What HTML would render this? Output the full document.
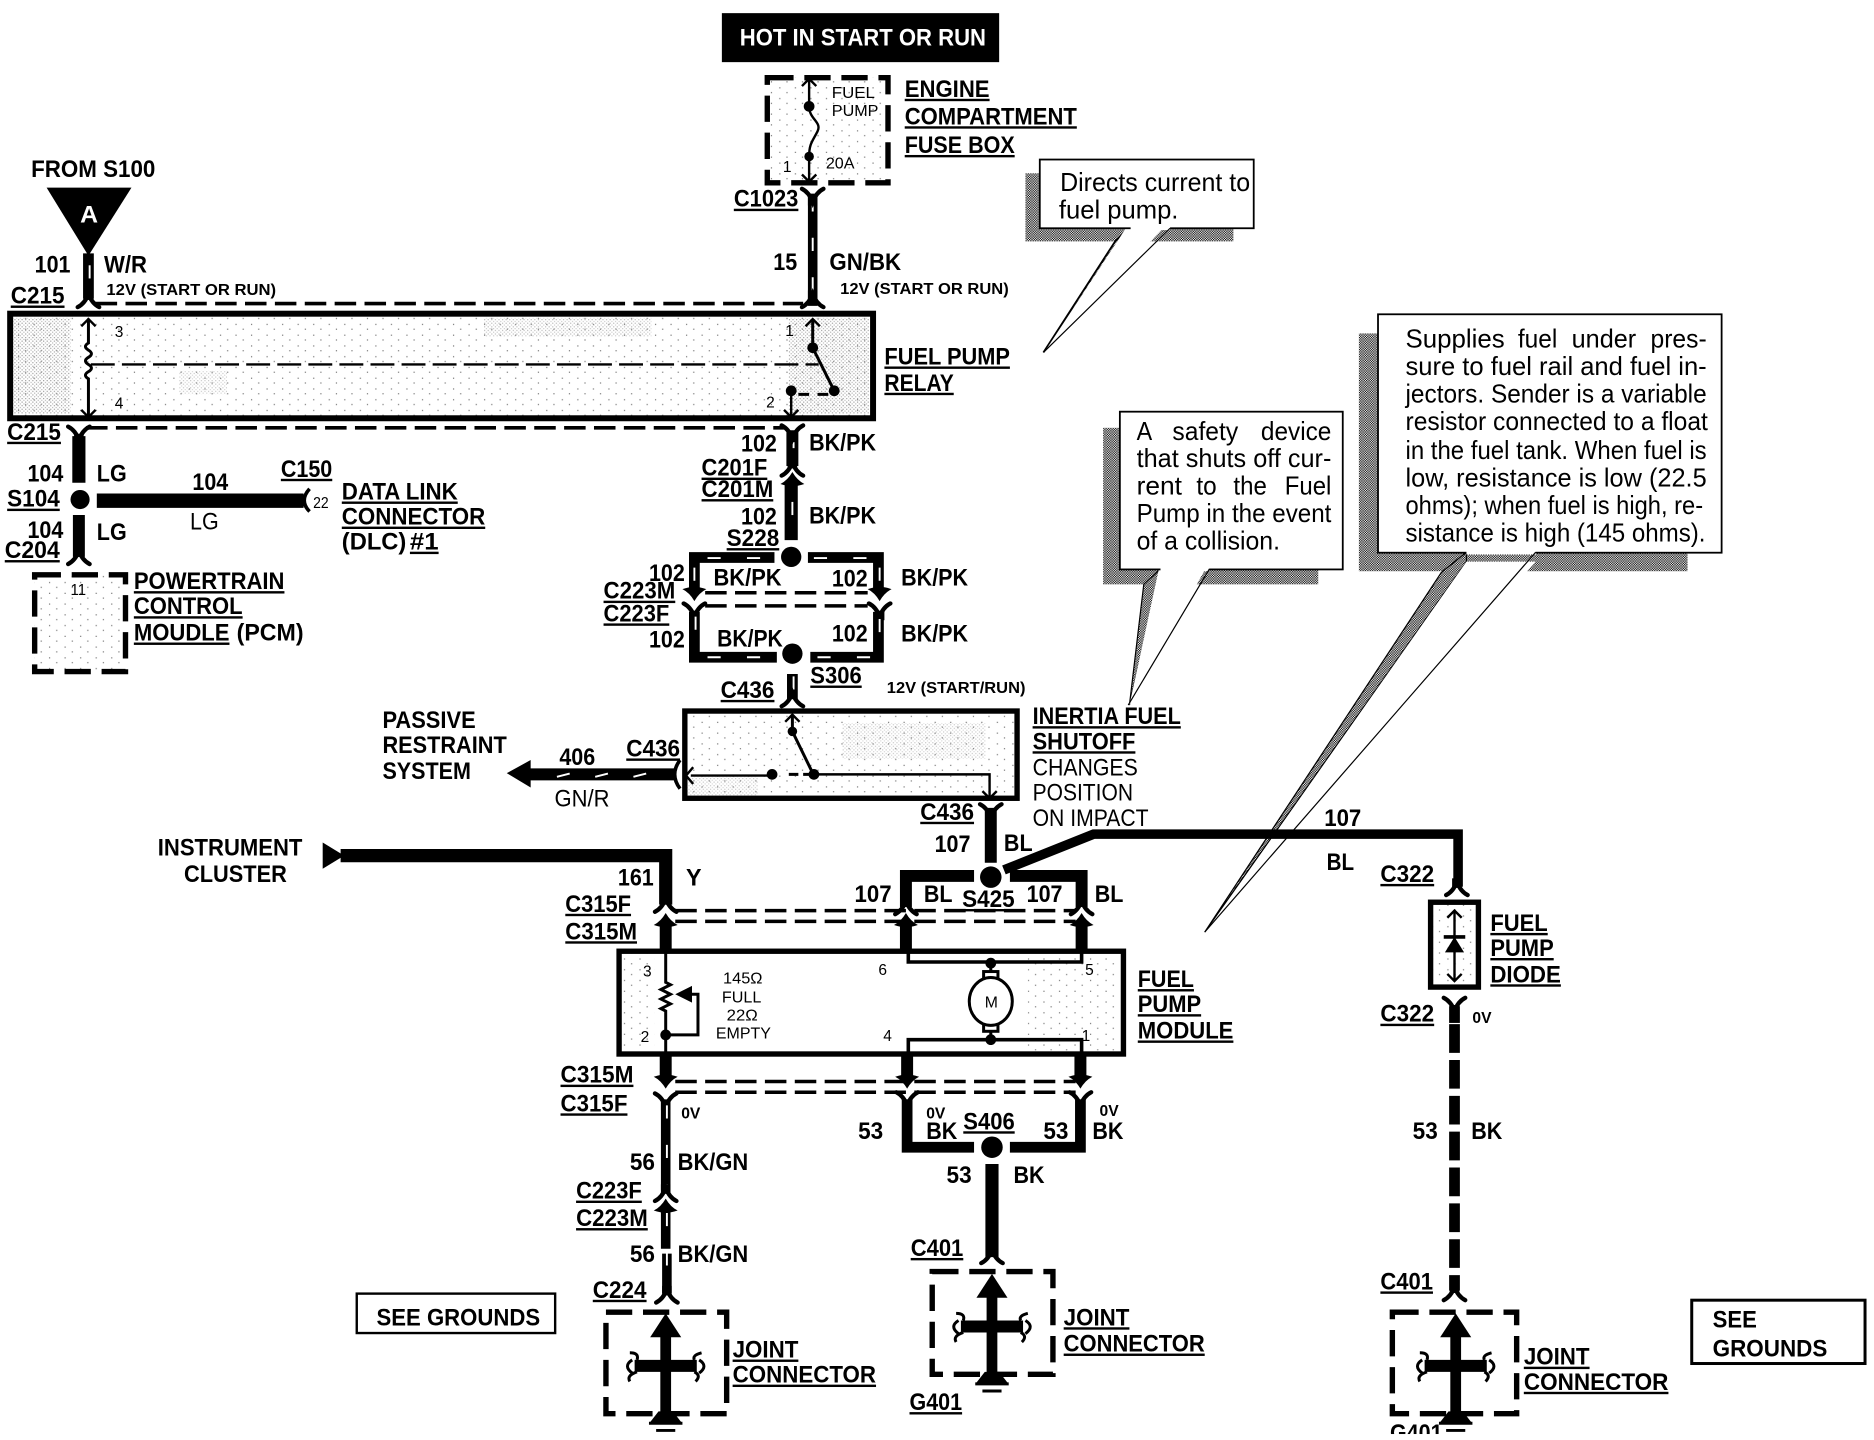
<!DOCTYPE html>
<html><head><meta charset="utf-8"><title>Fuel Pump Wiring Diagram</title>
<style>
html,body{margin:0;padding:0;background:#fff;overflow:hidden}
svg{display:block}
text{font-family:"Liberation Sans",sans-serif;fill:#000}
.b{font-weight:bold;font-size:20px}
.u{font-weight:bold;font-size:20px;text-decoration:underline}
.s{font-weight:bold;font-size:13px}
.n{font-size:20px}
.t{font-size:13px}
.c{font-size:22px}
.w{fill:none;stroke:#000;stroke-linecap:butt;stroke-linejoin:miter}
.sl{fill:none;stroke:#fff;stroke-width:1.6;stroke-dasharray:11 22}
.d{fill:none;stroke:#000;stroke-width:3;stroke-dasharray:18 7}
.bx{fill:none;stroke:#000;stroke-width:4.5;stroke-dasharray:22 9}
</style></head><body>
<svg xmlns="http://www.w3.org/2000/svg" width="1874" height="1440" viewBox="0 0 1568 1205" preserveAspectRatio="none">
<defs>
<pattern id="dit" width="2" height="2" patternUnits="userSpaceOnUse"><rect width="2" height="2" fill="#fff"/><rect width="1" height="1" fill="#000"/><rect x="1" y="1" width="1" height="1" fill="#000"/></pattern>
<pattern id="st" width="3" height="3" patternUnits="userSpaceOnUse"><rect width="1" height="1" fill="#777"/><rect x="1.5" y="1.5" width="1" height="1" fill="#999"/></pattern>
<pattern id="sp" width="13" height="9" patternUnits="userSpaceOnUse"><rect x="2" y="1" width="1" height="1" fill="#777"/><rect x="8" y="5" width="1" height="1" fill="#777"/></pattern>
<g id="fl"><path d="M-9,-7 Q-3,-4 0,4 Q3,-4 9,-7" fill="none" stroke="#000" stroke-width="3.600" stroke-linecap="round"/><polygon points="-4,-1 4,-1 4,7 -4,7" fill="#000"/></g>
<g id="ar"><path d="M0,-7 Q4,0 10,3 Q4,5 0,5 Q-4,5 -10,3 Q-4,0 0,-7Z" fill="#000"/></g>
<g id="ch"><polyline points="-6,6 0,0 6,6" fill="none" stroke="#000" stroke-width="2"/></g>
<g id="gnd"><path d="M-14,0H14M-8,6H8" stroke="#000" stroke-width="2.500" fill="none"/></g>
<g id="jc"><polygon points="0,-44 -13,-24 13,-24" fill="#000"/><path d="M0,-28V42" stroke="#000" stroke-width="9" fill="none"/><polygon points="-6,38 6,38 13,47 -13,47" fill="#000"/><path d="M-26,0H26" stroke="#000" stroke-width="10" fill="none"/><path d="M-30,-11 Q-22,-11 -24,-5 M-24,5 Q-33,8 -30,13 M30,-11 Q22,-9 24,-5 M24,5 Q30,8 25,13 M-28,-5 Q-36,0 -28,6 M28,-5 Q36,0 28,6" stroke="#000" stroke-width="2.500" fill="none"/></g>
</defs>
<rect width="1568" height="1205" fill="#fff"/>

<g transform="translate(1,0)">
<!-- callout 1 -->
<rect x="857" y="145" width="174" height="57" fill="url(#dit)"/>
<polygon points="932,202 945,190 872,295" fill="url(#dit)" stroke="#000" stroke-width="1.500"/>
<polygon points="945,185 978,185 874,293" fill="#fff"/>
<rect x="869" y="133.500" width="179" height="57.500" fill="#fff" stroke="#000" stroke-width="1.500"/>
<path d="M945,191 H978" stroke="#fff" stroke-width="3"/>
<path d="M978,191 L873,294" stroke="#000" stroke-width="1"/>
<text class="c" x="886" y="160" textLength="159" lengthAdjust="spacingAndGlyphs">Directs current to</text>
<text class="c" x="885" y="183" textLength="100" lengthAdjust="spacingAndGlyphs">fuel pump.</text>

<!-- callout 2 -->
<rect x="922" y="358" width="180" height="131" fill="url(#dit)"/>
<polygon points="956,489 970,476 944,590" fill="url(#dit)" stroke="#000" stroke-width="1"/>
<polygon points="970,470 1011,470 944,590" fill="#fff"/>
<rect x="936" y="344.500" width="186.500" height="132" fill="#fff" stroke="#000" stroke-width="1.500"/>
<path d="M970,476.500 H1011" stroke="#fff" stroke-width="3"/>
<path d="M1011,476 L943,590" stroke="#000" stroke-width="1"/>
<text class="c" x="950" y="368" textLength="13" lengthAdjust="spacingAndGlyphs">A</text>
<text class="c" x="980" y="368" textLength="55" lengthAdjust="spacingAndGlyphs">safety</text>
<text class="c" x="1054" y="368" textLength="59" lengthAdjust="spacingAndGlyphs">device</text>
<text class="c" x="950" y="391" textLength="163" lengthAdjust="spacingAndGlyphs">that shuts off cur-</text>
<text class="c" x="950" y="414" textLength="38" lengthAdjust="spacingAndGlyphs">rent</text>
<text class="c" x="1000" y="414" textLength="17" lengthAdjust="spacingAndGlyphs">to</text>
<text class="c" x="1031" y="414" textLength="28" lengthAdjust="spacingAndGlyphs">the</text>
<text class="c" x="1074" y="414" textLength="39" lengthAdjust="spacingAndGlyphs">Fuel</text>
<text class="c" x="950" y="437" textLength="163" lengthAdjust="spacingAndGlyphs">Pump in the event</text>
<text class="c" x="950" y="460" textLength="120" lengthAdjust="spacingAndGlyphs">of a collision.</text>

<!-- callout 3 -->
<rect x="1136" y="279" width="275" height="199" fill="url(#dit)"/>
<polygon points="1205,479 1226,462 1226,470 1007,780" fill="url(#dit)" stroke="#000" stroke-width="1"/>
<polygon points="1226,470 1284,470 1008,780" fill="#fff"/>
<rect x="1152" y="263" width="287.500" height="199.500" fill="#fff" stroke="#000" stroke-width="1.500"/>
<path d="M1226,462.500 H1284" stroke="#fff" stroke-width="3"/>
<path d="M1284,462 L1007,780" stroke="#000" stroke-width="1"/>
<text class="c" x="1175" y="291" textLength="83" lengthAdjust="spacingAndGlyphs">Supplies</text>
<text class="c" x="1269" y="291" textLength="33" lengthAdjust="spacingAndGlyphs">fuel</text>
<text class="c" x="1314" y="291" textLength="54" lengthAdjust="spacingAndGlyphs">under</text>
<text class="c" x="1380" y="291" textLength="47" lengthAdjust="spacingAndGlyphs">pres-</text>
<text class="c" x="1175" y="314" textLength="252" lengthAdjust="spacingAndGlyphs">sure to fuel rail and fuel in-</text>
<text class="c" x="1175" y="337" textLength="252" lengthAdjust="spacingAndGlyphs">jectors. Sender is a variable</text>
<text class="c" x="1175" y="360" textLength="253" lengthAdjust="spacingAndGlyphs">resistor connected to a float</text>
<text class="c" x="1175" y="384" textLength="252" lengthAdjust="spacingAndGlyphs">in the fuel tank. When fuel is</text>
<text class="c" x="1175" y="407" textLength="252" lengthAdjust="spacingAndGlyphs">low, resistance is low (22.5</text>
<text class="c" x="1175" y="430" textLength="249" lengthAdjust="spacingAndGlyphs">ohms); when fuel is high, re-</text>
<text class="c" x="1175" y="453" textLength="251" lengthAdjust="spacingAndGlyphs">sistance is high (145 ohms).</text>
</g>

<!-- top -->
<rect x="604" y="11" width="232" height="41" fill="#000"/>
<text class="b" x="619" y="38" textLength="206" lengthAdjust="spacingAndGlyphs" style="fill:#fff">HOT IN START OR RUN</text>

<!-- fuse box -->
<rect x="642" y="65" width="101" height="88" fill="url(#sp)"/>
<rect x="642" y="65" width="101" height="88" class="bx" stroke-dasharray="20 8"/>
<path d="M677,67 V89 C677,100 688,102 684,110 C680,118 677,120 677,131 V152" fill="none" stroke="#000" stroke-width="2"/>
<circle cx="677" cy="89" r="4.500"/><circle cx="677" cy="131" r="4"/>
<use href="#ch" x="677" y="66"/><use href="#ch" transform="translate(677,152) rotate(180)"/>
<text class="t" x="696" y="82" textLength="36" lengthAdjust="spacingAndGlyphs">FUEL</text>
<text class="t" x="696" y="97" textLength="39" lengthAdjust="spacingAndGlyphs">PUMP</text>
<text class="t" x="691" y="141" textLength="24" lengthAdjust="spacingAndGlyphs">20A</text>
<text class="t" x="655" y="144">1</text>
<text class="u" x="757" y="81" textLength="71" lengthAdjust="spacingAndGlyphs">ENGINE</text>
<text class="u" x="757" y="104" textLength="144" lengthAdjust="spacingAndGlyphs">COMPARTMENT</text>
<text class="u" x="757" y="128" textLength="92" lengthAdjust="spacingAndGlyphs">FUSE BOX</text>

<text class="u" x="614" y="173" textLength="54" lengthAdjust="spacingAndGlyphs">C1023</text>
<path class="w" d="M680,162V256" stroke-width="8"/><path class="sl" d="M680,166V256"/>
<use href="#fl" x="680" y="165"/><use href="#fl" transform="translate(680,250) rotate(180)"/>
<text class="b" x="647" y="226" textLength="20" lengthAdjust="spacingAndGlyphs">15</text>
<text class="b" x="694" y="226" textLength="60" lengthAdjust="spacingAndGlyphs">GN/BK</text>
<text class="s" x="703" y="246" textLength="141" lengthAdjust="spacingAndGlyphs">12V (START OR RUN)</text>

<!-- A -->
<text class="b" x="26" y="148" textLength="104" lengthAdjust="spacingAndGlyphs">FROM S100</text>
<polygon points="39,157 110,157 74,214" fill="#000"/>
<text class="b" x="67" y="186" textLength="15" lengthAdjust="spacingAndGlyphs" style="fill:#fff">A</text>
<path class="w" d="M74,212V250" stroke-width="9"/><path class="sl" d="M75,222V250"/>
<use href="#fl" transform="translate(74,250) rotate(180)"/>
<text class="b" x="29" y="228" textLength="30" lengthAdjust="spacingAndGlyphs">101</text>
<text class="b" x="87" y="228" textLength="36" lengthAdjust="spacingAndGlyphs">W/R</text>
<text class="s" x="89" y="247" textLength="142" lengthAdjust="spacingAndGlyphs">12V (START OR RUN)</text>
<text class="u" x="9" y="254" textLength="45" lengthAdjust="spacingAndGlyphs">C215</text>
<path class="d" d="M80,254H672"/>

<!-- relay -->
<rect x="9" y="263" width="721" height="87" fill="url(#sp)"/>
<rect x="11" y="266" width="48" height="80" fill="url(#st)" opacity=".7"/>
<rect x="405" y="266" width="140" height="16" fill="url(#st)" opacity=".5"/>
<rect x="150" y="310" width="40" height="20" fill="url(#st)" opacity=".4"/>
<rect x="660" y="266" width="67" height="80" fill="url(#st)" opacity=".7"/>
<rect x="8.500" y="262.500" width="722" height="87.500" fill="none" stroke="#000" stroke-width="5"/>
<path d="M74,268 V287 q-5,3 0,6 q5,3 0,6 q-5,3 0,6 q5,3 0,6 q-5,3 0,6 V349" fill="none" stroke="#000" stroke-width="2.500"/>
<use href="#ch" x="74" y="267"/><use href="#ch" transform="translate(74,349) rotate(180)"/>
<path d="M76,305H685" fill="none" stroke="#000" stroke-width="2" stroke-dasharray="20 6"/>
<path d="M680,268V291L698,327" fill="none" stroke="#000" stroke-width="2.500"/>
<use href="#ch" x="680" y="267"/>
<circle cx="680" cy="291" r="4.500"/><circle cx="698" cy="327" r="4.500"/>
<path d="M668,330H695" fill="none" stroke="#000" stroke-width="2.500" stroke-dasharray="9 7"/>
<circle cx="662" cy="327" r="4.500"/><path d="M662,327V348" stroke="#000" stroke-width="2"/>
<use href="#ch" transform="translate(662,349) rotate(180)"/>
<text class="t" x="96" y="282">3</text><text class="t" x="96" y="342">4</text>
<text class="t" x="657" y="281">1</text><text class="t" x="641" y="341">2</text>
<text class="u" x="740" y="305" textLength="105" lengthAdjust="spacingAndGlyphs">FUEL PUMP</text>
<text class="u" x="740" y="327" textLength="58" lengthAdjust="spacingAndGlyphs">RELAY</text>

<!-- LG -->
<text class="u" x="6" y="368" textLength="45" lengthAdjust="spacingAndGlyphs">C215</text>
<path class="d" d="M72,358H658"/>
<use href="#fl" x="66" y="364"/>
<path class="w" d="M66,365V404" stroke-width="11"/>
<text class="b" x="23" y="403" textLength="30" lengthAdjust="spacingAndGlyphs">104</text>
<text class="b" x="81" y="403" textLength="25" lengthAdjust="spacingAndGlyphs">LG</text>
<circle cx="67" cy="418" r="8"/>
<text class="u" x="6" y="424" textLength="44" lengthAdjust="spacingAndGlyphs">S104</text>
<path class="w" d="M81,419H254" stroke-width="12"/>
<path d="M259,409 Q250,419 259,428" fill="none" stroke="#000" stroke-width="3"/>
<text class="b" x="161" y="410" textLength="30" lengthAdjust="spacingAndGlyphs">104</text>
<text class="n" x="159" y="443" textLength="24" lengthAdjust="spacingAndGlyphs">LG</text>
<text class="u" x="235" y="399" textLength="43" lengthAdjust="spacingAndGlyphs">C150</text>
<text class="t" x="262" y="425" textLength="13" lengthAdjust="spacingAndGlyphs">22</text>
<text class="u" x="286" y="418" textLength="97" lengthAdjust="spacingAndGlyphs">DATA LINK</text>
<text class="u" x="286" y="439" textLength="120" lengthAdjust="spacingAndGlyphs">CONNECTOR</text>
<text class="b" x="286" y="460" textLength="54" lengthAdjust="spacingAndGlyphs">(DLC)</text>
<text class="u" x="343" y="460" textLength="24" lengthAdjust="spacingAndGlyphs">#1</text>
<path class="w" d="M66,431V466" stroke-width="10"/>
<use href="#fl" transform="translate(66,465) rotate(180)"/>
<text class="b" x="23" y="450" textLength="30" lengthAdjust="spacingAndGlyphs">104</text>
<text class="b" x="81" y="452" textLength="25" lengthAdjust="spacingAndGlyphs">LG</text>
<text class="u" x="4" y="467" textLength="46" lengthAdjust="spacingAndGlyphs">C204</text>
<rect x="29" y="481" width="76" height="81" fill="url(#sp)"/>
<rect x="29" y="481" width="76" height="81" class="bx" stroke-dasharray="18 7"/>
<text class="t" x="59" y="498" textLength="13" lengthAdjust="spacingAndGlyphs">11</text>
<text class="u" x="112" y="493" textLength="126" lengthAdjust="spacingAndGlyphs">POWERTRAIN</text>
<text class="u" x="112" y="514" textLength="91" lengthAdjust="spacingAndGlyphs">CONTROL</text>
<text class="u" x="112" y="536" textLength="80" lengthAdjust="spacingAndGlyphs">MOUDLE</text>
<text class="b" x="198" y="536" textLength="56" lengthAdjust="spacingAndGlyphs">(PCM)</text>

<!-- 102 -->
<path class="w" d="M663,360V390" stroke-width="10"/><path class="sl" d="M664,364V390"/>
<use href="#fl" x="663" y="363"/><use href="#fl" transform="translate(663,391) rotate(180)"/>
<use href="#ar" x="663" y="402"/>
<path class="w" d="M662,404V452" stroke-width="11"/><path class="sl" d="M663,420V448"/>
<text class="b" x="620" y="378" textLength="30" lengthAdjust="spacingAndGlyphs">102</text>
<text class="b" x="677" y="377" textLength="56" lengthAdjust="spacingAndGlyphs">BK/PK</text>
<text class="u" x="587" y="398" textLength="55" lengthAdjust="spacingAndGlyphs">C201F</text>
<text class="u" x="587" y="416" textLength="60" lengthAdjust="spacingAndGlyphs">C201M</text>
<text class="b" x="620" y="439" textLength="30" lengthAdjust="spacingAndGlyphs">102</text>
<text class="b" x="677" y="438" textLength="56" lengthAdjust="spacingAndGlyphs">BK/PK</text>
<text class="u" x="608" y="457" textLength="44" lengthAdjust="spacingAndGlyphs">S228</text>
<circle cx="662" cy="466" r="8.500"/>
<path class="w" d="M581,495V466.500H648M676,466.500H735V495" stroke-width="9"/>
<path class="sl" d="M592,467H648M681,467H730M581,475V492M736,475V492" stroke-dasharray="8 15"/>
<use href="#ar" transform="translate(581,496) rotate(180)"/><use href="#ar" transform="translate(736,496) rotate(180)"/>
<path class="d" d="M590,496H726M590,507H726"/>
<use href="#fl" x="581" y="512"/><use href="#fl" x="736" y="512"/>
<path class="w" d="M581,512V550H650M678,550H735V512" stroke-width="9"/>
<path class="sl" d="M582,516V545M592,550H648M684,550H730M736,518V545" stroke-dasharray="8 15"/>
<circle cx="663" cy="547" r="8.500"/>
<text class="b" x="543" y="486" textLength="30" lengthAdjust="spacingAndGlyphs">102</text>
<text class="b" x="597" y="490" textLength="57" lengthAdjust="spacingAndGlyphs">BK/PK</text>
<text class="b" x="696" y="491" textLength="30" lengthAdjust="spacingAndGlyphs">102</text>
<text class="b" x="754" y="490" textLength="56" lengthAdjust="spacingAndGlyphs">BK/PK</text>
<text class="u" x="505" y="501" textLength="60" lengthAdjust="spacingAndGlyphs">C223M</text>
<text class="u" x="505" y="520" textLength="55" lengthAdjust="spacingAndGlyphs">C223F</text>
<text class="b" x="543" y="542" textLength="30" lengthAdjust="spacingAndGlyphs">102</text>
<text class="b" x="600" y="541" textLength="55" lengthAdjust="spacingAndGlyphs">BK/PK</text>
<text class="b" x="696" y="537" textLength="30" lengthAdjust="spacingAndGlyphs">102</text>
<text class="b" x="754" y="537" textLength="56" lengthAdjust="spacingAndGlyphs">BK/PK</text>
<text class="u" x="678" y="572" textLength="43" lengthAdjust="spacingAndGlyphs">S306</text>
<text class="u" x="603" y="584" textLength="45" lengthAdjust="spacingAndGlyphs">C436</text>
<path class="w" d="M663,564V585" stroke-width="9"/><path class="sl" d="M664,566V584"/>
<use href="#fl" transform="translate(663,584) rotate(180)"/>
<text class="s" x="742" y="580" textLength="116" lengthAdjust="spacingAndGlyphs">12V (START/RUN)</text>

<!-- inertia -->
<rect x="574" y="597" width="275" height="70" fill="url(#sp)"/>
<rect x="705" y="605" width="120" height="30" fill="url(#st)" opacity=".4"/>
<rect x="574" y="650" width="60" height="16" fill="url(#st)" opacity=".4"/>
<rect x="573" y="595" width="278" height="73" fill="none" stroke="#000" stroke-width="4.500"/>
<path d="M663,598V612L681,649" fill="none" stroke="#000" stroke-width="2.500"/>
<use href="#ch" x="663" y="598"/>
<circle cx="663" cy="612" r="4"/><circle cx="681" cy="648" r="4.500"/><circle cx="646" cy="648" r="4.500"/>
<path d="M660,648H678" stroke="#000" stroke-width="2.500" stroke-dasharray="8 4"/>
<path d="M578,649H645M681,648H828V667" fill="none" stroke="#000" stroke-width="2"/>
<use href="#ch" transform="translate(828,668) rotate(180)"/>
<path d="M580,642 L574,649 L580,656" fill="none" stroke="#000" stroke-width="2"/>
<text class="u" x="864" y="606" textLength="124" lengthAdjust="spacingAndGlyphs">INERTIA FUEL</text>
<text class="u" x="864" y="627" textLength="86" lengthAdjust="spacingAndGlyphs">SHUTOFF</text>
<text class="n" x="864" y="649" textLength="88" lengthAdjust="spacingAndGlyphs">CHANGES</text>
<text class="n" x="864" y="670" textLength="84" lengthAdjust="spacingAndGlyphs">POSITION</text>
<text class="n" x="864" y="691" textLength="97" lengthAdjust="spacingAndGlyphs">ON IMPACT</text>

<text class="b" x="320" y="609" textLength="78" lengthAdjust="spacingAndGlyphs">PASSIVE</text>
<text class="b" x="320" y="630" textLength="104" lengthAdjust="spacingAndGlyphs">RESTRAINT</text>
<text class="b" x="320" y="652" textLength="74" lengthAdjust="spacingAndGlyphs">SYSTEM</text>
<polygon points="424,647 444,636 444,659" fill="#000"/>
<path class="w" d="M440,648H565" stroke-width="10"/>
<path class="sl" d="M466,650L482,646M498,650L514,646M530,650L546,646" stroke-dasharray="none" stroke-width="2.500"/>
<path d="M569,636Q560,648 569,660" fill="none" stroke="#000" stroke-width="3"/>
<text class="b" x="468" y="640" textLength="30" lengthAdjust="spacingAndGlyphs">406</text>
<text class="u" x="524" y="633" textLength="45" lengthAdjust="spacingAndGlyphs">C436</text>
<text class="n" x="464" y="675" textLength="46" lengthAdjust="spacingAndGlyphs">GN/R</text>

<!-- instrument -->
<text class="b" x="132" y="716" textLength="121" lengthAdjust="spacingAndGlyphs">INSTRUMENT</text>
<text class="b" x="154" y="738" textLength="86" lengthAdjust="spacingAndGlyphs">CLUSTER</text>
<polygon points="270,705 288,716 270,727" fill="#000"/>
<path class="w" d="M285,716H557V757" stroke-width="11"/>
<use href="#fl" transform="translate(557,756) rotate(180)"/>
<text class="b" x="517" y="741" textLength="30" lengthAdjust="spacingAndGlyphs">161</text>
<text class="b" x="574" y="741" textLength="13" lengthAdjust="spacingAndGlyphs">Y</text>
<text class="u" x="473" y="763" textLength="55" lengthAdjust="spacingAndGlyphs">C315F</text>
<text class="u" x="473" y="786" textLength="60" lengthAdjust="spacingAndGlyphs">C315M</text>
<path class="d" d="M565,762H900M565,771H900" stroke-width="2.500"/>
<use href="#ar" x="557" y="771"/>
<path class="w" d="M557,772V796" stroke-width="10"/>

<!-- S425 -->
<path class="w" d="M829,676V722" stroke-width="10"/>
<use href="#fl" x="829" y="680"/>
<text class="u" x="770" y="686" textLength="45" lengthAdjust="spacingAndGlyphs">C436</text>
<text class="b" x="782" y="713" textLength="30" lengthAdjust="spacingAndGlyphs">107</text>
<text class="b" x="840" y="712" textLength="24" lengthAdjust="spacingAndGlyphs">BL</text>
<circle cx="829" cy="734" r="9"/>
<path class="w" d="M758,759V733H815M845,733H905V759" stroke-width="10"/>
<use href="#fl" transform="translate(758,758) rotate(180)"/><use href="#fl" transform="translate(905,758) rotate(180)"/>
<path class="w" d="M840,728L915,698H1220V742" stroke-width="8"/>
<use href="#fl" transform="translate(1219,742) rotate(180)"/>
<text class="b" x="1108" y="691" textLength="31" lengthAdjust="spacingAndGlyphs">107</text>
<text class="b" x="1110" y="728" textLength="23" lengthAdjust="spacingAndGlyphs">BL</text>
<text class="u" x="1155" y="738" textLength="45" lengthAdjust="spacingAndGlyphs">C322</text>
<text class="b" x="715" y="755" textLength="31" lengthAdjust="spacingAndGlyphs">107</text>
<text class="b" x="773" y="755" textLength="24" lengthAdjust="spacingAndGlyphs">BL</text>
<text class="u" x="805" y="759" textLength="44" lengthAdjust="spacingAndGlyphs">S425</text>
<text class="b" x="859" y="755" textLength="30" lengthAdjust="spacingAndGlyphs">107</text>
<text class="b" x="916" y="755" textLength="24" lengthAdjust="spacingAndGlyphs">BL</text>
<use href="#ar" x="758" y="771"/><use href="#ar" x="905" y="771"/>
<path class="w" d="M758,772V796M905,772V796" stroke-width="10"/>

<!-- module -->
<rect x="860" y="800" width="78" height="79" fill="url(#sp)"/>
<rect x="518" y="797" width="30" height="80" fill="url(#sp)"/>
<rect x="518" y="796" width="422" height="86" fill="none" stroke="#000" stroke-width="4.500"/>
<path d="M557,797 V822 l4,2 l-8,4 l8,4 l-8,4 l8,4 l-8,4 l4,2 V880" fill="none" stroke="#000" stroke-width="2.500"/>
<circle cx="557" cy="866" r="4.500"/>
<polygon points="565,832 579,825 579,839" fill="#000"/>
<path d="M575,832H584V866H557" fill="none" stroke="#000" stroke-width="2.500"/>
<text class="t" x="538" y="817">3</text><text class="t" x="536" y="872">2</text>
<text class="t" x="605" y="823" textLength="33" lengthAdjust="spacingAndGlyphs">145Ω</text>
<text class="t" x="604" y="839" textLength="33" lengthAdjust="spacingAndGlyphs">FULL</text>
<text class="t" x="608" y="854" textLength="26" lengthAdjust="spacingAndGlyphs">22Ω</text>
<text class="t" x="599" y="869" textLength="46" lengthAdjust="spacingAndGlyphs">EMPTY</text>
<text class="t" x="735" y="816">6</text><text class="t" x="739" y="871">4</text>
<text class="t" x="908" y="816">5</text><text class="t" x="905" y="871">1</text>
<path d="M760,797V805H905V797M760,881V870H905V881" fill="none" stroke="#000" stroke-width="3"/>
<path d="M829,804V820M829,856V870" stroke="#000" stroke-width="2.500"/>
<circle cx="829" cy="806" r="4.500"/><circle cx="829" cy="870" r="4.500"/>
<rect x="823" y="813" width="12" height="7" fill="#fff" stroke="#000" stroke-width="2.500"/>
<rect x="823" y="856" width="12" height="7" fill="#fff" stroke="#000" stroke-width="2.500"/>
<ellipse cx="829" cy="838" rx="18" ry="20" fill="#fff" stroke="#000" stroke-width="2.500"/>
<text class="t" x="824" y="843" textLength="11" lengthAdjust="spacingAndGlyphs">M</text>
<text class="u" x="952" y="826" textLength="47" lengthAdjust="spacingAndGlyphs">FUEL</text>
<text class="u" x="952" y="847" textLength="53" lengthAdjust="spacingAndGlyphs">PUMP</text>
<text class="u" x="952" y="869" textLength="80" lengthAdjust="spacingAndGlyphs">MODULE</text>

<!-- lower -->
<path class="w" d="M557,882V900" stroke-width="10"/>
<use href="#ar" transform="translate(557,904) rotate(180)"/>
<path class="d" d="M565,905H900M565,914H900" stroke-width="2.500"/>
<use href="#fl" x="557" y="922"/>
<path class="w" d="M557,920V996" stroke-width="8"/><path class="sl" d="M558,925V996"/>
<use href="#fl" transform="translate(557,998) rotate(180)"/>
<use href="#ar" x="557" y="1010"/>
<path class="w" d="M557,1012V1045M558,1049V1082" stroke-width="8"/><path class="sl" d="M558,1015V1082"/>
<use href="#fl" transform="translate(558,1083) rotate(180)"/>
<text class="u" x="469" y="906" textLength="61" lengthAdjust="spacingAndGlyphs">C315M</text>
<text class="u" x="469" y="930" textLength="56" lengthAdjust="spacingAndGlyphs">C315F</text>
<text class="s" x="570" y="936" textLength="16" lengthAdjust="spacingAndGlyphs">0V</text>
<text class="b" x="527" y="979" textLength="21" lengthAdjust="spacingAndGlyphs">56</text>
<text class="b" x="567" y="979" textLength="59" lengthAdjust="spacingAndGlyphs">BK/GN</text>
<text class="u" x="482" y="1003" textLength="55" lengthAdjust="spacingAndGlyphs">C223F</text>
<text class="u" x="482" y="1026" textLength="60" lengthAdjust="spacingAndGlyphs">C223M</text>
<text class="b" x="527" y="1056" textLength="21" lengthAdjust="spacingAndGlyphs">56</text>
<text class="b" x="567" y="1056" textLength="59" lengthAdjust="spacingAndGlyphs">BK/GN</text>
<text class="u" x="496" y="1086" textLength="45" lengthAdjust="spacingAndGlyphs">C224</text>

<rect x="507" y="1098" width="101" height="85" class="bx" stroke-dasharray="19 8"/>
<use href="#jc" x="557" y="1143"/>
<use href="#gnd" x="557" y="1191"/>
<text class="u" x="613" y="1136" textLength="55" lengthAdjust="spacingAndGlyphs">JOINT</text>
<text class="u" x="613" y="1157" textLength="120" lengthAdjust="spacingAndGlyphs">CONNECTOR</text>
<rect x="298.500" y="1082.500" width="166" height="33" fill="none" stroke="#000" stroke-width="2"/>
<text class="b" x="315" y="1109" textLength="137" lengthAdjust="spacingAndGlyphs">SEE GROUNDS</text>

<!-- S406 -->
<path class="w" d="M759,882V900M904,882V900" stroke-width="10"/>
<use href="#ar" transform="translate(759,904) rotate(180)"/><use href="#ar" transform="translate(904,904) rotate(180)"/>
<use href="#fl" x="759" y="921"/><use href="#fl" x="904" y="921"/>
<path class="w" d="M759,920V960H815M845,960H904V920" stroke-width="9"/>
<circle cx="830" cy="960" r="9"/>
<text class="b" x="718" y="953" textLength="21" lengthAdjust="spacingAndGlyphs">53</text>
<text class="s" x="775" y="936" textLength="16" lengthAdjust="spacingAndGlyphs">0V</text>
<text class="b" x="775" y="953" textLength="26" lengthAdjust="spacingAndGlyphs">BK</text>
<text class="u" x="806" y="945" textLength="43" lengthAdjust="spacingAndGlyphs">S406</text>
<text class="b" x="873" y="953" textLength="21" lengthAdjust="spacingAndGlyphs">53</text>
<text class="s" x="920" y="934" textLength="16" lengthAdjust="spacingAndGlyphs">0V</text>
<text class="b" x="914" y="953" textLength="26" lengthAdjust="spacingAndGlyphs">BK</text>
<path class="w" d="M830,974V1052" stroke-width="11"/>
<use href="#fl" transform="translate(830,1050) rotate(180)"/>
<text class="b" x="792" y="990" textLength="21" lengthAdjust="spacingAndGlyphs">53</text>
<text class="b" x="848" y="990" textLength="26" lengthAdjust="spacingAndGlyphs">BK</text>
<text class="u" x="762" y="1051" textLength="44" lengthAdjust="spacingAndGlyphs">C401</text>
<rect x="780" y="1064" width="101" height="86" class="bx" stroke-dasharray="19 8"/>
<use href="#jc" x="830" y="1110"/>
<use href="#gnd" x="830" y="1158"/>
<text class="u" x="890" y="1109" textLength="55" lengthAdjust="spacingAndGlyphs">JOINT</text>
<text class="u" x="890" y="1131" textLength="118" lengthAdjust="spacingAndGlyphs">CONNECTOR</text>
<text class="u" x="761" y="1180" textLength="44" lengthAdjust="spacingAndGlyphs">G401</text>

<!-- diode -->
<rect x="1197" y="755" width="40" height="71" fill="url(#sp)" stroke="#000" stroke-width="4.500"/>
<path d="M1217,762V820" stroke="#000" stroke-width="2"/>
<use href="#ch" x="1217" y="762"/><use href="#ch" transform="translate(1217,821) rotate(180)"/>
<polygon points="1217,784 1225,797 1209,797" fill="#000"/><path d="M1208,784H1226" stroke="#000" stroke-width="3"/>
<text class="u" x="1247" y="779" textLength="48" lengthAdjust="spacingAndGlyphs">FUEL</text>
<text class="u" x="1247" y="800" textLength="53" lengthAdjust="spacingAndGlyphs">PUMP</text>
<text class="u" x="1247" y="822" textLength="59" lengthAdjust="spacingAndGlyphs">DIODE</text>
<text class="u" x="1155" y="855" textLength="45" lengthAdjust="spacingAndGlyphs">C322</text>
<use href="#fl" x="1217" y="842"/>
<path class="w" d="M1217,842V856" stroke-width="9"/>
<text class="s" x="1232" y="856" textLength="16" lengthAdjust="spacingAndGlyphs">0V</text>
<path class="w" d="M1217,857V1080" stroke-width="9" stroke-dasharray="24 6"/>
<text class="b" x="1182" y="953" textLength="21" lengthAdjust="spacingAndGlyphs">53</text>
<text class="b" x="1231" y="953" textLength="26" lengthAdjust="spacingAndGlyphs">BK</text>
<text class="u" x="1155" y="1079" textLength="44" lengthAdjust="spacingAndGlyphs">C401</text>
<use href="#fl" transform="translate(1217,1081) rotate(180)"/>
<rect x="1165" y="1098" width="104" height="85" class="bx" stroke-dasharray="19 8"/>
<use href="#jc" x="1218" y="1143"/>
<use href="#gnd" x="1218" y="1191"/>
<text class="u" x="1275" y="1142" textLength="55" lengthAdjust="spacingAndGlyphs">JOINT</text>
<text class="u" x="1275" y="1163" textLength="121" lengthAdjust="spacingAndGlyphs">CONNECTOR</text>
<text class="u" x="1163" y="1206" textLength="44" lengthAdjust="spacingAndGlyphs">G401</text>
<rect x="1415.500" y="1088" width="145" height="53" fill="none" stroke="#000" stroke-width="2.500"/>
<text class="b" x="1433" y="1111" textLength="37" lengthAdjust="spacingAndGlyphs">SEE</text>
<text class="b" x="1433" y="1135" textLength="96" lengthAdjust="spacingAndGlyphs">GROUNDS</text>
<rect x="0" y="1200" width="1568" height="5" fill="#fff"/>
</svg>
</body></html>
